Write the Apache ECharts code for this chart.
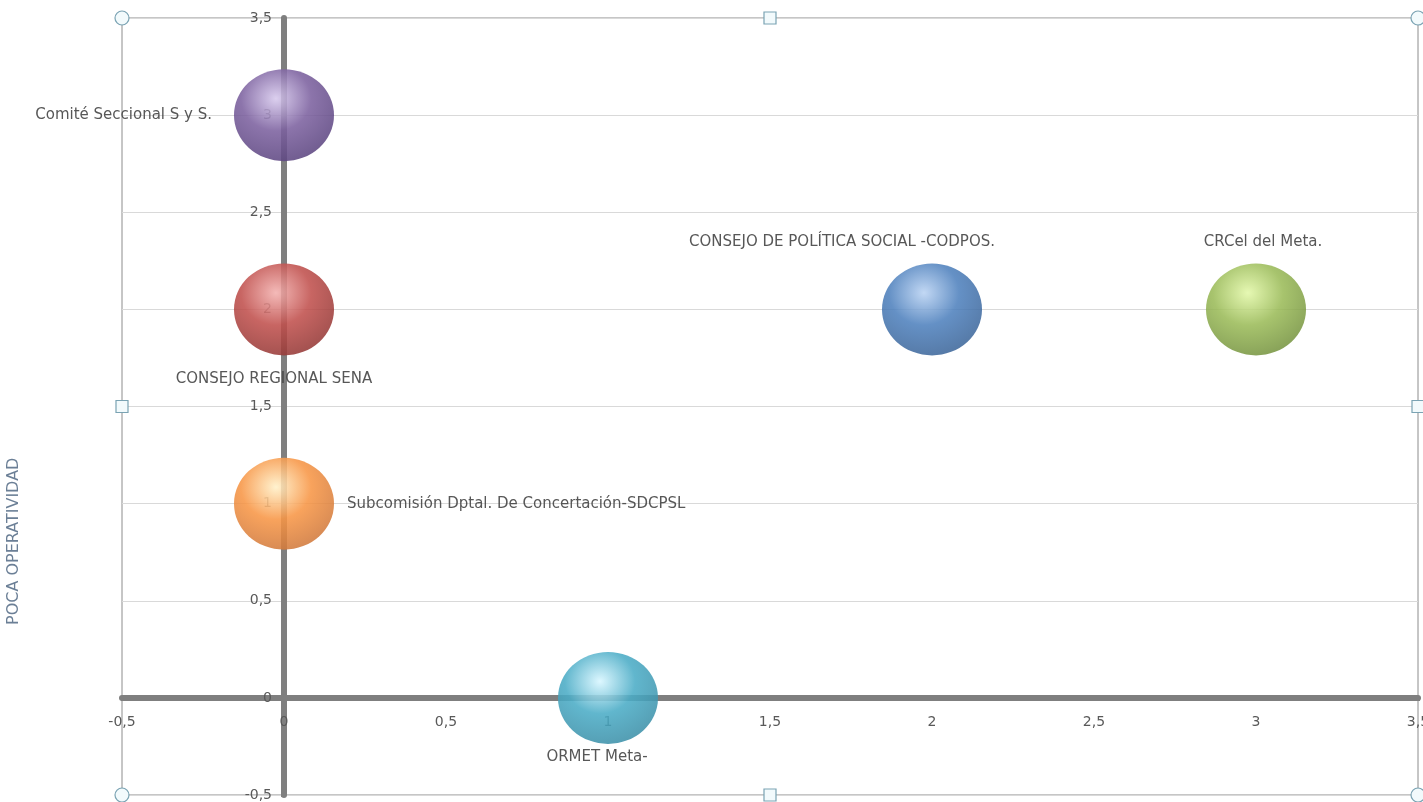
<!DOCTYPE html>
<html>
<head>
    <meta charset="utf-8">
    <script src="https://cdn.jsdelivr.net/npm/echarts@6/dist/echarts.min.js"></script>
    <style>
        html, body { margin: 0; padding: 0; background: #fff; }
    </style>
</head>
<body>
<div id="main" style="width: 1423px;height:802px;"></div>
<script type="text/javascript">
    // datos del gráfico
    var names = ['Comité Seccional S y S.', 'CONSEJO REGIONAL SENA', 'Subcomisión Dptal. De Concertación-SDCPSL',
        'ORMET Meta-', 'CONSEJO DE POLÍTICA SOCIAL -CODPOS.', 'CRCel del Meta.'];
    var xValues = [0, 0, 0, 1, 2, 3];
    var yValues = [3, 2, 1, 0, 2, 2];
    var sizes = [1, 1, 1, 1, 1, 1];
    var axisTicks = [-0.5, 0, 0.5, 1, 1.5, 2, 2.5, 3, 3.5];

    // estilo de cada burbuja
    var colors = ['#7c619f', '#C0504D', '#F79646', '#4BACC6', '#4F81BD', '#9BBB59'];
    var lights = ['#d6c8ec', '#f2b0ae', '#fff0c8', '#d8f6ff', '#b9d2f2', '#e2f7a8'];
    var darks = ['#56407a', '#8c3432', '#c8733a', '#3a8aa2', '#3a6192', '#6f8c3c'];
    var labelPos = ['left', 'bottom', 'right', 'bottom', 'top', 'top'];
    var labelOffset = [[-8, 0], [-10, 2], [-1, 0], [-11, -8], [-90, 0], [7, 0]];

    var GRID = {left: 122, right: 5, top: 18, bottom: 7};
    var W = 1423, H = 802;

    var myChart = echarts.init(document.getElementById('main'));

    function fmt(v) {
        return String(v).replace('.', ',');
    }

    var data = [];
    for (let i = 0; i < names.length; i++) {
        data.push({
            name: names[i],
            value: [xValues[i], yValues[i], sizes[i]],
            itemStyle: {
                opacity: 0.88,
                color: {
                    type: 'radial', x: 0.42, y: 0.32, r: 0.78,
                    colorStops: [
                        {offset: 0, color: lights[i]},
                        {offset: 0.45, color: colors[i]},
                        {offset: 1, color: darks[i]}
                    ]
                }
            },
            label: {
                position: labelPos[i],
                offset: labelOffset[i]
            }
        });
    }

    // asas de selección del marco
    var handleStyle = {fill: '#f2fafc', stroke: '#7aa3b3', lineWidth: 1.2};
    var L = GRID.left, R = W - GRID.right, T = GRID.top, B = H - GRID.bottom;
    var graphics = [
        {type: 'text', x: 6, y: 625, rotation: Math.PI / 2,
            style: {text: 'POCA OPERATIVIDAD', fill: '#6b7f96', font: '16px "DejaVu Sans"'}}
    ];
    [[L, T], [R, T], [L, B], [R, B]].forEach(function (p) {
        graphics.push({type: 'circle', shape: {cx: p[0], cy: p[1], r: 7}, style: handleStyle, z: 100});
    });
    [[(L + R) / 2, T], [L, (T + B) / 2], [R, (T + B) / 2], [(L + R) / 2, B]].forEach(function (p) {
        graphics.push({type: 'rect', shape: {x: p[0] - 6, y: p[1] - 6, width: 12, height: 12}, style: handleStyle, z: 100});
    });

    var axisFont = {color: '#595959', fontSize: 14, fontFamily: '"DejaVu Sans"'};

    myChart.setOption({
        animation: false,
        textStyle: {fontFamily: '"DejaVu Sans", sans-serif'},
        grid: {
            left: GRID.left, right: GRID.right, top: GRID.top, bottom: GRID.bottom,
            containLabel: false, outerBoundsMode: 'none',
            show: true, borderColor: '#8c8c8c', borderWidth: 1
        },
        xAxis: {
            type: 'value', position: 'bottom',
            min: axisTicks[0], max: axisTicks[axisTicks.length - 1], interval: 0.5,
            axisLine: {onZero: false, lineStyle: {color: '#7f7f7f', width: 6}},
            axisTick: {show: true, length: 3, lineStyle: {color: '#7f7f7f', width: 3}},
            axisLabel: Object.assign({formatter: fmt, margin: 17}, axisFont),
            splitLine: {show: false}
        },
        yAxis: {
            type: 'value', position: 'left',
            min: axisTicks[0], max: axisTicks[axisTicks.length - 1], interval: 0.5,
            axisLine: {onZero: false, lineStyle: {color: '#7f7f7f', width: 6}},
            axisTick: {show: true, length: 3, lineStyle: {color: '#7f7f7f', width: 3}},
            axisLabel: Object.assign({formatter: fmt, margin: 12}, axisFont),
            splitLine: {show: true, lineStyle: {color: '#d9d9d9', width: 1}}
        },
        series: [{
            type: 'scatter',
            symbol: 'circle',
            symbolSize: [100, 92],
            data: data,
            label: {
                show: true,
                formatter: '{b}',
                color: '#404040',
                fontSize: 15,
                fontFamily: '"DejaVu Sans"',
                distance: 14
            },
            z: 3
        }],
        graphic: graphics
    });

    // los ejes se cruzan en el cero
    var zero = myChart.convertToPixel({gridIndex: 0}, [0, 0]);
    myChart.setOption({
        xAxis: {offset: -(B - zero[1])},
        yAxis: {offset: -(zero[0] - L)}
    });
</script>
</body>
</html>
